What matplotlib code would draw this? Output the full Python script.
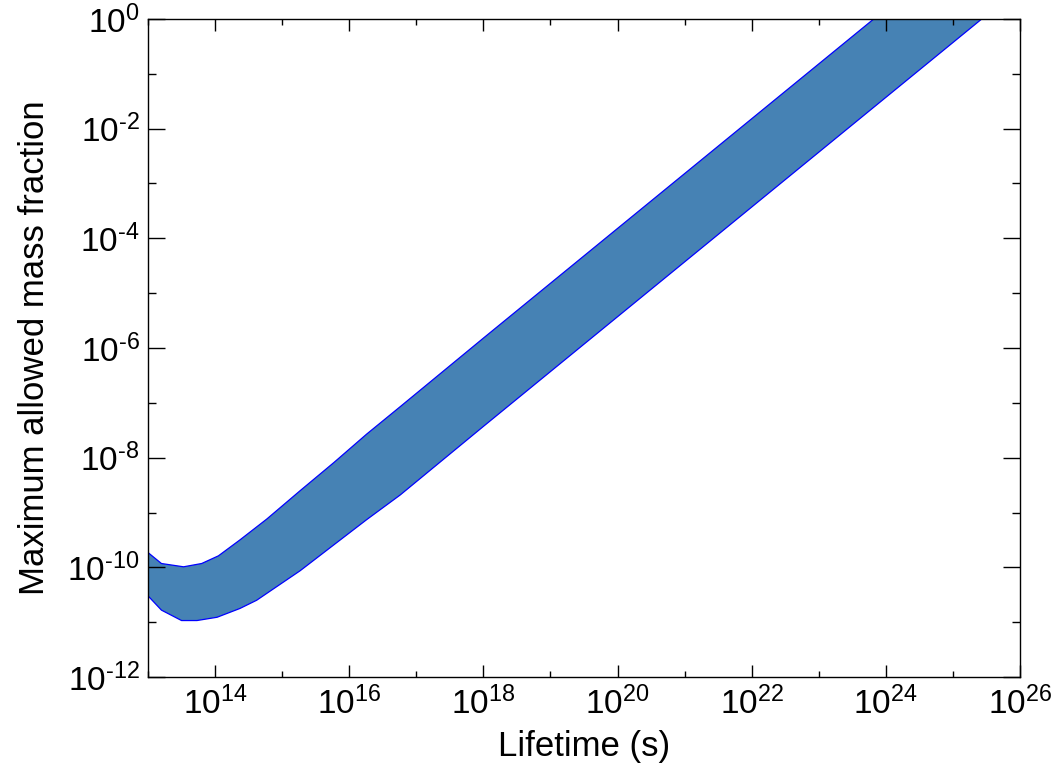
import matplotlib

matplotlib.use("Agg")
import matplotlib.pyplot as plt
import numpy as np
from matplotlib.ticker import FixedLocator, FuncFormatter, NullFormatter

# band, log10 units
log_tau_upper = [13.00, 13.20, 13.53, 13.80, 14.05, 14.37, 14.77, 15.27, 15.77, 16.26, 16.76, 18.0, 20.0, 22.0, 24.0, 26.0]
log_frac_upper = [-9.73, -9.93, -9.99, -9.93, -9.79, -9.50, -9.12, -8.60, -8.09, -7.57, -7.07, -5.82, -3.82, -1.82, 0.18, 2.18]

log_tau_lower = [13.00, 13.20, 13.50, 13.73, 14.03, 14.37, 14.62, 15.27, 15.77, 16.26, 16.76, 18.0, 20.0, 22.0, 24.0, 26.0]
log_frac_lower = [-10.52, -10.78, -10.97, -10.97, -10.91, -10.75, -10.60, -10.06, -9.59, -9.13, -8.68, -7.43, -5.43, -3.43, -1.43, 0.57]

x_major = [14, 16, 18, 20, 22, 24, 26]
x_minor = [13, 15, 17, 19, 21, 23, 25]
y_major = [0, -2, -4, -6, -8, -10, -12]
y_minor = [-1, -3, -5, -7, -9, -11]

plt.rcParams["font.family"] = ["Liberation Sans", "DejaVu Sans"]
plt.rcParams["mathtext.fontset"] = "custom"
plt.rcParams["mathtext.rm"] = "Liberation Sans"
plt.rcParams["mathtext.it"] = "Liberation Sans:italic"

fig = plt.figure(figsize=(10.55, 7.65), dpi=100)
ax = fig.add_axes([0.1403, 0.1150, 0.8265, 0.8602])

# common grid so the band can be filled between both edges
grid = np.union1d(log_tau_upper, log_tau_lower)
up = np.interp(grid, log_tau_upper, log_frac_upper)
lo = np.interp(grid, log_tau_lower, log_frac_lower)
xs = 10.0 ** grid
ax.fill_between(xs, 10.0 ** lo, 10.0 ** up, facecolor="#4682b4", edgecolor="none")
ax.plot(xs, 10.0 ** up, color="blue", linewidth=0.9)
ax.plot(xs, 10.0 ** lo, color="blue", linewidth=0.9)

ax.set_xscale("log")
ax.set_yscale("log")
ax.set_xlim(1e13, 1e26)
ax.set_ylim(1e-12, 1e0)

ax.xaxis.set_major_locator(FixedLocator([10.0 ** e for e in x_major]))
ax.xaxis.set_minor_locator(FixedLocator([10.0 ** e for e in x_minor]))
ax.yaxis.set_major_locator(FixedLocator([10.0 ** e for e in y_major]))
ax.yaxis.set_minor_locator(FixedLocator([10.0 ** e for e in y_minor]))


def _pow10(v, pos):
    e = int(round(np.log10(v)))
    if e < 0:
        return r"$\mathregular{10^{\text{-}%d}}$" % (-e)
    return r"$\mathregular{10^{%d}}$" % e


ax.xaxis.set_major_formatter(FuncFormatter(_pow10))
ax.yaxis.set_major_formatter(FuncFormatter(_pow10))
ax.xaxis.set_minor_formatter(NullFormatter())
ax.yaxis.set_minor_formatter(NullFormatter())

ax.tick_params(which="both", direction="in", top=True, right=True, width=1.0, labelsize=24)
ax.tick_params(axis="x", which="major", length=8.6, pad=7)
ax.tick_params(axis="x", which="minor", length=4.3)
ax.tick_params(axis="y", which="major", length=12.2, pad=6)
ax.tick_params(axis="y", which="minor", length=6.1)
for s in ax.spines.values():
    s.set_linewidth(1.0)

ax.set_xlabel("Lifetime (s)", fontsize=25, labelpad=6)
ax.set_ylabel("Maximum allowed mass fraction", fontsize=25, labelpad=12)

fig.savefig("out.png", dpi=100)
